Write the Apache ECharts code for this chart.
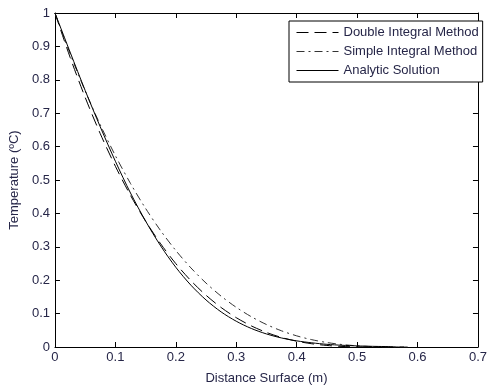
<!DOCTYPE html>
<html>
<head>
<meta charset="utf-8">
<script src="https://cdn.jsdelivr.net/npm/echarts@6/dist/echarts.min.js"></script>
<style>html,body{margin:0;padding:0;background:#fff;}#c{width:490px;height:390px;}</style>
</head>
<body>
<div id="c"></div>
<script>
// Distance values (m)
const xDouble = [0,0.025,0.05,0.075,0.1,0.125,0.15,0.175,0.2,0.225,0.25,0.275,0.3,0.325,0.35,0.375,0.4,0.425,0.45,0.475,0.5,0.525,0.54,0.56,0.58];
const yDouble = [1,0.8675,0.7472,0.6385,0.541,0.4539,0.3767,0.3088,0.2496,0.1985,0.1549,0.1182,0.0878,0.0631,0.0436,0.0285,0.0174,0.0097,0.0046,0.0017,0.0004,0.00002,0,0,0];

const xSimple = [0,0.025,0.05,0.075,0.1,0.125,0.15,0.175,0.2,0.225,0.25,0.275,0.3,0.325,0.35,0.375,0.4,0.425,0.45,0.475,0.5,0.525,0.55,0.575,0.59];
const ySimple = [1,0.8782,0.7667,0.6651,0.5728,0.4896,0.4148,0.348,0.2888,0.2368,0.1914,0.1522,0.1188,0.0906,0.0673,0.0484,0.0334,0.0219,0.0134,0.0074,0.0035,0.0013,0.0003,0.00002,0];

const xAnalytic = [0,0.025,0.05,0.075,0.1,0.125,0.15,0.175,0.2,0.225,0.25,0.275,0.3,0.325,0.35,0.375,0.4,0.425,0.45,0.475,0.5,0.525,0.56];
const yAnalytic = [1,0.883,0.768,0.659,0.556,0.461,0.377,0.3025,0.2386,0.185,0.1408,0.105,0.0771,0.0554,0.0391,0.027,0.0184,0.0125,0.008,0.0052,0.0033,0.002,0.001];

const seriesNames = ['Double Integral Method','Simple Integral Method','Analytic Solution'];
const xTicks = {min:0, max:0.7, interval:0.1};
const yTicks = {min:0, max:1, interval:0.1};

function pairs(xs, ys){ return xs.map((x,i)=>[x, ys[i]]); }

const chart = echarts.init(document.getElementById('c'), null, {renderer:'canvas'});
const txt = '#262648';
const font = 'Liberation Sans, Arial, sans-serif';
chart.setOption({
  animation:false,
  backgroundColor:'#fff',
  grid:{left:53, right:6, top:13, bottom:38, containLabel:false},
  legend:{
    show:true,
    orient:'vertical', left:289, top:21,
    data:seriesNames,
    itemWidth:42, itemHeight:13, itemGap:6,
    padding:[5,4,5,7],
    borderColor:'#000', borderWidth:1, backgroundColor:'#fff',
    itemStyle:{opacity:0},
    lineStyle:{width:1},
    textStyle:{color:txt, fontFamily:font, fontSize:13}
  },
  xAxis:[{
    type:'value', min:xTicks.min, max:xTicks.max, interval:xTicks.interval,
    name:'Distance Surface (m)', nameLocation:'middle', nameGap:25,
    nameTextStyle:{color:txt, fontFamily:font, fontSize:13},
    axisLine:{show:true, onZero:false, lineStyle:{color:'#000', width:1}},
    axisTick:{show:true, inside:true, length:5, lineStyle:{color:'#000'}},
    axisLabel:{color:txt, fontFamily:font, fontSize:13, margin:4},
    splitLine:{show:false}
  },{
    type:'value', position:'top', min:xTicks.min, max:xTicks.max, interval:xTicks.interval,
    axisLine:{show:true, onZero:false, lineStyle:{color:'#000', width:1}},
    axisTick:{show:true, inside:true, length:5, lineStyle:{color:'#000'}},
    axisLabel:{show:false}, splitLine:{show:false}
  }],
  yAxis:[{
    type:'value', min:yTicks.min, max:yTicks.max, interval:yTicks.interval,
    name:'Temperature (ºC)', nameLocation:'middle', nameGap:27, nameRotate:90,
    nameTextStyle:{color:txt, fontFamily:font, fontSize:13},
    axisLine:{show:true, onZero:false, lineStyle:{color:'#000', width:1}},
    axisTick:{show:true, inside:true, length:5, lineStyle:{color:'#000'}},
    axisLabel:{color:txt, fontFamily:font, fontSize:13, margin:5},
    splitLine:{show:false}
  },{
    type:'value', position:'right', min:yTicks.min, max:yTicks.max, interval:yTicks.interval,
    axisLine:{show:true, onZero:false, lineStyle:{color:'#000', width:1}},
    axisTick:{show:true, inside:true, length:5, lineStyle:{color:'#000'}},
    axisLabel:{show:false}, splitLine:{show:false}
  }],
  series:[
    {name:seriesNames[0], type:'line', data:pairs(xDouble,yDouble), symbol:'none', smooth:0.3,
     lineStyle:{color:'#000', width:1, type:[12,6]}, itemStyle:{color:'#000'}},
    {name:seriesNames[1], type:'line', data:pairs(xSimple,ySimple), symbol:'none', smooth:0.3,
     lineStyle:{color:'#333', width:1, type:[8,4,2,4]}, itemStyle:{color:'#333'}},
    {name:seriesNames[2], type:'line', data:pairs(xAnalytic,yAnalytic), symbol:'none', smooth:0.3,
     lineStyle:{color:'#000', width:1, type:'solid'}, itemStyle:{color:'#000'}}
  ]
});
</script>
</body>
</html>
